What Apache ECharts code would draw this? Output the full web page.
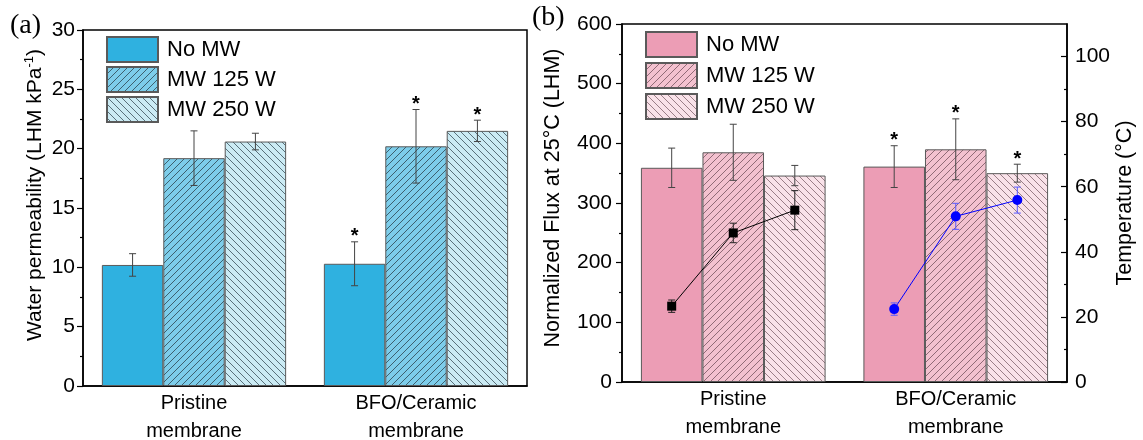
<!DOCTYPE html>
<html>
<head>
<meta charset="utf-8">
<script src="https://cdn.jsdelivr.net/npm/echarts@6/dist/echarts.min.js"></script>
<style>
  html, body { margin: 0; padding: 0; background: #fff; }
  #chart { width: 1143px; height: 440px; }
</style>
</head>
<body>
<div id="chart"></div>
<script>
// ---- data ----
const categories = ['Pristine\nmembrane', 'BFO/Ceramic\nmembrane'];
const treatments = ['No MW', 'MW 125 W', 'MW 250 W'];

// Water permeability (LHM kPa^-1), [Pristine, BFO/Ceramic]
const permNoMW = [10.2, 10.3];
const perm125 = [19.2, 20.2];
const perm250 = [20.6, 21.5];
const permErrNoMW = [0.95, 1.85];
const permErr125 = [2.3, 3.1];
const permErr250 = [0.7, 0.9];
// significance mark (1 = asterisk) per treatment, [Pristine, BFO/Ceramic]
const permSigNoMW = [0, 1];
const permSig125 = [0, 1];
const permSig250 = [0, 1];

// Normalized flux at 25 °C (LHM), [Pristine, BFO/Ceramic]
const fluxNoMW = [359, 361];
const flux125 = [385, 390];
const flux250 = [346, 350];
const fluxErrNoMW = [33, 35];
const fluxErr125 = [47, 51];
const fluxErr250 = [17, 15];
const fluxSigNoMW = [0, 1];
const fluxSig125 = [0, 1];
const fluxSig250 = [0, 1];

// Temperature (°C) reached under No MW / 125 W / 250 W
const tempPristine = [23.3, 45.8, 52.8];
const tempBFO = [22.4, 50.9, 55.9];
const tempErrPristine = [1.9, 3.0, 6.0];
const tempErrBFO = [1.9, 4.0, 4.0];

// right-axis ticks
const tempTickLabels = [0, 20, 40, 60, 80, 100];
const tempMinorTicks = [10, 30, 50, 70, 90];

// ---- styling helpers ----
const SANS = '"Liberation Sans", Arial, sans-serif';
const SERIF = '"Liberation Serif", "Times New Roman", serif';
const CAT_GAP = 0.17;

function hatch(bg, dir, ink) {
  const s = 7;
  const c = document.createElement('canvas');
  c.width = s; c.height = s;
  const g = c.getContext('2d');
  g.fillStyle = bg;
  g.fillRect(0, 0, s, s);
  if (dir !== 0) {
    g.strokeStyle = ink;
    g.lineWidth = 1;
    g.beginPath();
    for (const o of [-s, 0, s]) {
      if (dir > 0) { g.moveTo(o - 1, s + 1); g.lineTo(o + s + 1, -1); }
      else { g.moveTo(o - 1, -1); g.lineTo(o + s + 1, s + 1); }
    }
    g.stroke();
  }
  return { image: c, repeat: 'repeat' };
}

const blueFills = [
  '#2fb1e0',
  hatch('#7dcdea', 1, 'rgba(40,60,70,0.75)'),
  hatch('#cbebf4', -1, 'rgba(40,60,70,0.7)')
];
const pinkFills = [
  '#ec9db5',
  hatch('#f3c1cf', 1, 'rgba(90,60,70,0.65)'),
  hatch('#f9e2e9', -1, 'rgba(90,60,70,0.6)')
];

function zip(vals, errs, sig) {
  return vals.map((v, i) => [i, v, errs[i], sig[i]]);
}

function barSeries(name, vals, fill, xi, yi) {
  return {
    type: 'bar', name, xAxisIndex: xi, yAxisIndex: yi, data: vals,
    barGap: '0%', barCategoryGap: (CAT_GAP * 100) + '%',
    itemStyle: { color: fill, borderColor: '#5a5a5a', borderWidth: 1 },
    emphasis: { disabled: true }, silent: true, z: 2
  };
}

function errSeries(rows, slot, xi, yi) {
  return {
    type: 'custom', xAxisIndex: xi, yAxisIndex: yi, data: rows, z: 5, silent: true,
    encode: { x: 0, y: 1 },
    renderItem(params, api) {
      const cat = api.value(0), v = api.value(1), e = api.value(2), sig = api.value(3);
      const band = api.size([1, 0])[0];
      const bw = band * (1 - CAT_GAP) / 3;
      const x = api.coord([cat, v])[0] + (slot - 1) * bw;
      const yt = api.coord([cat, v + e])[1];
      const yb = api.coord([cat, v - e])[1];
      const st = { stroke: '#444', lineWidth: 1 };
      const kids = [
        { type: 'line', shape: { x1: x, y1: yt, x2: x, y2: yb }, style: st },
        { type: 'line', shape: { x1: x - 3.5, y1: yt, x2: x + 3.5, y2: yt }, style: st },
        { type: 'line', shape: { x1: x - 3.5, y1: yb, x2: x + 3.5, y2: yb }, style: st }
      ];
      if (sig) {
        kids.push({ type: 'text', style: {
          text: '*', x: x, y: yt + 5, align: 'center', verticalAlign: 'bottom',
          font: 'bold 20px ' + SANS, fill: '#000' } });
      }
      return { type: 'group', children: kids };
    }
  };
}

const tempStyles = [
  { color: '#000', errColor: '#222', symbol: 'square' },
  { color: '#0000ff', errColor: '#5a5aff', symbol: 'circle' }
];

const tempSeries = {
  type: 'custom', xAxisIndex: 1, yAxisIndex: 2, z: 8, silent: true,
  encode: { x: 0, y: 1 },
  data: [
    [0, ...tempPristine, ...tempErrPristine],
    [1, ...tempBFO, ...tempErrBFO]
  ],
  renderItem(params, api) {
    const cat = api.value(0);
    const sty = tempStyles[cat];
    const band = api.size([1, 0])[0];
    const bw = band * (1 - CAT_GAP) / 3;
    const cx = api.coord([cat, 0])[0];
    const kids = [];
    const pts = [];
    for (let j = 0; j < 3; j++) {
      const v = api.value(1 + j), e = api.value(4 + j);
      const x = cx + (j - 1) * bw;
      const y = api.coord([cat, v])[1];
      pts.push([x, y]);
      const yt = api.coord([cat, v + e])[1], yb = api.coord([cat, v - e])[1];
      const st = { stroke: sty.errColor, lineWidth: 1 };
      kids.push(
        { type: 'line', shape: { x1: x, y1: yt, x2: x, y2: yb }, style: st },
        { type: 'line', shape: { x1: x - 3.5, y1: yt, x2: x + 3.5, y2: yt }, style: st },
        { type: 'line', shape: { x1: x - 3.5, y1: yb, x2: x + 3.5, y2: yb }, style: st }
      );
    }
    kids.unshift({ type: 'polyline', shape: { points: pts },
      style: { stroke: sty.color, lineWidth: 1, fill: null } });
    pts.forEach(([x, y]) => {
      if (sty.symbol === 'square') {
        kids.push({ type: 'rect', shape: { x: x - 4.5, y: y - 4.5, width: 9, height: 9 },
          style: { fill: sty.color } });
      } else {
        kids.push({ type: 'circle', shape: { cx: x, cy: y, r: 5 }, style: { fill: sty.color } });
      }
    });
    return { type: 'group', children: kids };
  }
};

const permNames = treatments.map(t => 'perm:' + t);
const fluxNames = treatments.map(t => 'flux:' + t);

const axisLineStyle = { color: '#000', width: 1.5 };
const tickLabel = { color: '#000', fontSize: 21, fontFamily: SANS };

function catAxis(gi) {
  return {
    type: 'category', gridIndex: gi, data: categories,
    axisLine: { lineStyle: axisLineStyle },
    axisTick: { show: false },
    axisLabel: { color: '#000', fontSize: 20, fontFamily: SANS, lineHeight: 28, margin: 3, interval: 0 }
  };
}

const legendCommon = {
  orient: 'vertical', icon: 'rect', itemWidth: 51, itemHeight: 25,
  selectedMode: false, padding: 0,
  textStyle: { color: '#000', fontSize: 22, fontFamily: SANS, padding: [0, 0, 0, 4] },
  formatter: n => n.replace(/^\w+:/, '')
};

const gridCommon = {
  show: true, borderColor: '#000', borderWidth: 1.5, backgroundColor: 'transparent',
  outerBoundsMode: 'none', containLabel: false
};

const option = {
  animation: false,
  backgroundColor: '#fff',
  grid: [
    Object.assign({ left: 83, top: 30, width: 444, height: 356 }, gridCommon),
    Object.assign({ left: 622, top: 24, width: 445, height: 358 }, gridCommon)
  ],
  legend: [
    Object.assign({ left: 106, top: 36, itemGap: 3, data: permNames }, legendCommon),
    Object.assign({ left: 645, top: 31, itemGap: 4, data: fluxNames }, legendCommon)
  ],
  xAxis: [catAxis(0), catAxis(1)],
  yAxis: [
    {
      type: 'value', gridIndex: 0, min: 0, max: 30, interval: 5,
      axisLine: { show: true, lineStyle: axisLineStyle },
      axisTick: { show: true, length: 6, lineStyle: { color: '#000', width: 1.2 } },
      minorTick: { show: true, splitNumber: 2, length: 3, lineStyle: { color: '#000', width: 1.2 } },
      splitLine: { show: false },
      axisLabel: Object.assign({ margin: 8 }, tickLabel),
      name: 'Water permeability (LHM kPa{sup|-1})',
      nameLocation: 'middle', nameGap: 36,
      nameTextStyle: {
        color: '#000', fontSize: 21, fontFamily: SANS, lineHeight: 24, padding: [0, 0, 0, 26],
        rich: { sup: { fontSize: 13, lineHeight: 13, verticalAlign: 'top', color: '#000', fontFamily: SANS } }
      }
    },
    {
      type: 'value', gridIndex: 1, min: 0, max: 600, interval: 100,
      axisLine: { show: true, lineStyle: axisLineStyle },
      axisTick: { show: true, length: 6, lineStyle: { color: '#000', width: 1.2 } },
      minorTick: { show: true, splitNumber: 2, length: 3, lineStyle: { color: '#000', width: 1.2 } },
      splitLine: { show: false },
      axisLabel: Object.assign({ margin: 10 }, tickLabel),
      name: 'Normalized Flux at 25°C (LHM)',
      nameLocation: 'middle', nameGap: 58,
      nameTextStyle: { color: '#000', fontSize: 21.5, fontFamily: SANS, padding: [0, 0, 0, 10] }
    },
    {
      type: 'value', gridIndex: 1, position: 'right', min: 0, max: 110,
      axisLine: { show: true, lineStyle: axisLineStyle },
      axisTick: { show: true, inside: true, length: 6, customValues: tempTickLabels, lineStyle: { color: '#000', width: 1.2 } },
      splitLine: { show: false },
      axisLabel: Object.assign({ margin: 8, customValues: tempTickLabels }, tickLabel),
      name: 'Temperature (°C)',
      nameLocation: 'middle', nameGap: 46,
      nameTextStyle: { color: '#000', fontSize: 21.5, fontFamily: SANS }
    },
    {
      type: 'value', gridIndex: 1, position: 'right', min: 0, max: 110,
      axisLine: { show: false },
      axisTick: { show: true, inside: true, length: 3, customValues: tempMinorTicks, lineStyle: { color: '#000', width: 1.2 } },
      axisLabel: { show: false },
      splitLine: { show: false }
    }
  ],
  graphic: [
    { type: 'text', left: 10, top: 12, style: { text: '(a)', font: '28px ' + SERIF, fill: '#000' } },
    { type: 'text', left: 532, top: 4, style: { text: '(b)', font: '28px ' + SERIF, fill: '#000' } }
  ],
  series: [
    barSeries(permNames[0], permNoMW, blueFills[0], 0, 0),
    barSeries(permNames[1], perm125, blueFills[1], 0, 0),
    barSeries(permNames[2], perm250, blueFills[2], 0, 0),
    errSeries(zip(permNoMW, permErrNoMW, permSigNoMW), 0, 0, 0),
    errSeries(zip(perm125, permErr125, permSig125), 1, 0, 0),
    errSeries(zip(perm250, permErr250, permSig250), 2, 0, 0),
    barSeries(fluxNames[0], fluxNoMW, pinkFills[0], 1, 1),
    barSeries(fluxNames[1], flux125, pinkFills[1], 1, 1),
    barSeries(fluxNames[2], flux250, pinkFills[2], 1, 1),
    errSeries(zip(fluxNoMW, fluxErrNoMW, fluxSigNoMW), 0, 1, 1),
    errSeries(zip(flux125, fluxErr125, fluxSig125), 1, 1, 1),
    errSeries(zip(flux250, fluxErr250, fluxSig250), 2, 1, 1),
    tempSeries
  ]
};

const chart = echarts.init(document.getElementById('chart'), null, { renderer: 'canvas' });
chart.setOption(option);
</script>
</body>
</html>
